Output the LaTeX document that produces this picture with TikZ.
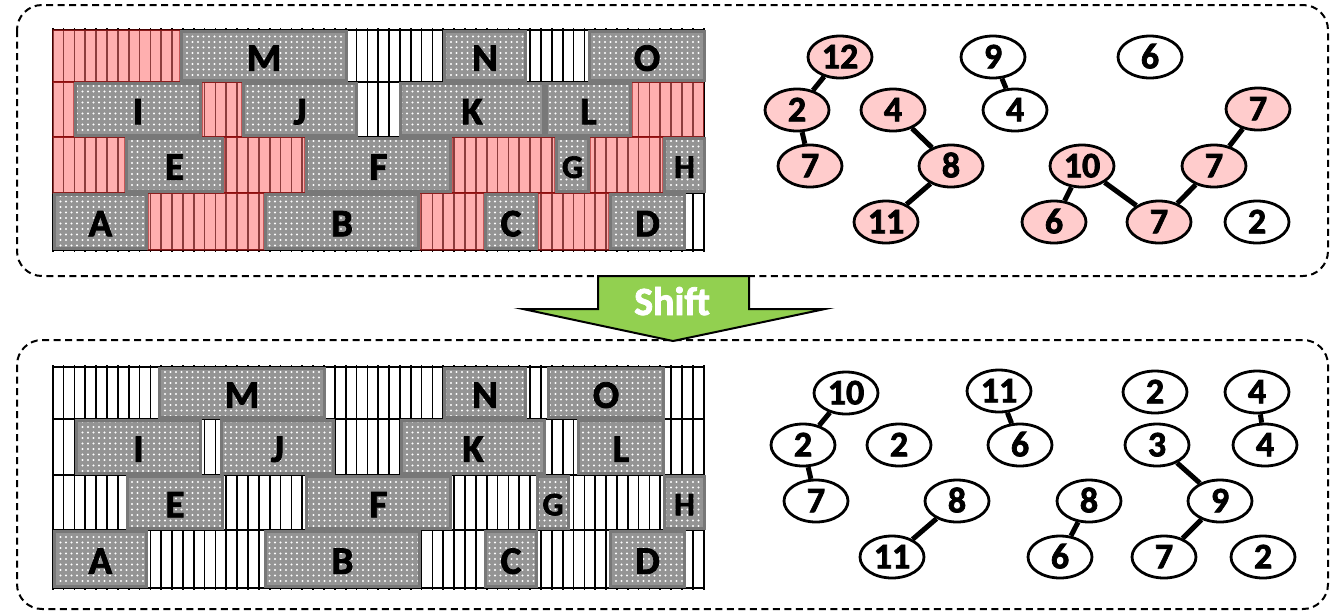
\documentclass[tikz,border=0pt]{standalone}
\usepackage{fontspec}
\setmainfont{Carlito}[BoldFont={Carlito Bold}, BoldFeatures={FakeBold=2}]
\usetikzlibrary{shapes.geometric,patterns.meta}
\definecolor{redfill}{RGB}{255,110,110}
\definecolor{pinkfill}{RGB}{255,204,204}
\definecolor{blkfill}{RGB}{148,148,148}
\definecolor{blkedge}{RGB}{120,120,120}
\definecolor{arrowgreen}{RGB}{146,208,80}
\tikzset{
  hatchline/.style={black, line width=1.7pt},
  rowline/.style={black, line width=1.3pt},
  redzone/.style={fill=redfill, fill opacity=0.55, draw=red!55!black, draw opacity=0.5, line width=1.2pt},
  blk/.style={preaction={fill=blkfill}, pattern={Dots[distance=5.5pt,radius=1.05pt]}, pattern color=white, draw=blkedge, line width=3pt},
  lbl/.style={font=\bfseries\fontsize{39}{42}\selectfont, inner sep=0pt, text height=24.6pt, text depth=0pt, yshift=-2.5pt},
  lblsmall/.style={font=\bfseries\fontsize{33}{36}\selectfont, text height=20.8pt},
  num/.style={ellipse, draw=black, line width=2.8pt, minimum width=64pt, minimum height=42pt, inner sep=0pt, font=\bfseries\fontsize{36}{38}\selectfont, text height=22.7pt, text depth=0pt},
  pnum/.style={num, fill=pinkfill},
  wnum/.style={num, fill=white},
  link/.style={line width=5pt, black},
  dbox/.style={draw=black, line width=2pt, dash pattern=on 7pt off 4.5pt, rounded corners=25pt},
  shiftarrow/.style={fill=arrowgreen, draw=black, line width=2pt, line join=miter},
  shiftlbl/.style={font=\bfseries\fontsize{40}{44}\selectfont, text=white, anchor=base, inner sep=0pt},
}
\newcommand\myblock[7][]{%
  \path[blk] ({#2+1.5},{#4+1.5}) rectangle ({#3-1.5},{#5-1.5});
  \node[lbl,#1] (#7) at ({(#2+#3)/2},{(#4+#5)/2}) {#6};
}
\newcommand\mygrid[5]{%
  \foreach \i in {0,...,60} \draw[hatchline] ({52.7+\i*10.85},{#1-2}) -- ({52.7+\i*10.85},{#5+2});
  \foreach \yy in {#1,#2,#3,#4,#5} \draw[rowline] (52.7,\yy) -- (703.7,\yy);
}
\begin{document}
\begin{tikzpicture}[x=1pt,y=-1pt]
\useasboundingbox (0,0) rectangle (1332,614);
% dashed panels
\draw[dbox] (17,5) rectangle (1328,276);
\draw[dbox] (17,340) rectangle (1328,609);
% ---------- top grid ----------
\mygrid{30}{82}{137}{193}{250}
\foreach \a/\b/\c/\d in {52.7/180/30/82, 52.7/74/82/137, 202/242/82/137, 632/703.7/82/137,
  52.7/125/137/193, 224/305/137/193, 452/555/137/193, 590/663/137/193,
  148/264/193/250, 420/484/193/250, 538/609/193/250}
  \path[redzone] (\a,\c) rectangle (\b,\d);
\myblock{180}{348}{30}{82}{M}{tM}
\myblock{443}{527}{30}{82}{N}{tN}
\myblock{588}{706}{30}{82}{O}{tO}
\myblock{74}{202}{82}{137}{I}{tI}
\myblock{242}{358}{82}{137}{J}{tJ}
\myblock{399}{545}{82}{137}{K}{tK}
\myblock{545}{632}{82}{137}{L}{tL}
\myblock{125}{224}{137}{193}{E}{tE}
\myblock{305}{452}{137}{193}{F}{tF}
\myblock[lblsmall]{555}{590}{137}{193}{G}{tG}
\myblock[lblsmall]{663}{706}{137}{193}{H}{tH}
\myblock{52.7}{148}{193}{250}{A}{tA}
\myblock{264}{420}{193}{250}{B}{tB}
\myblock{484}{538}{193}{250}{C}{tC}
\myblock{609}{686}{193}{250}{D}{tD}
% ---------- bottom grid ----------
\mygrid{367}{419}{475}{530}{588}
\myblock{158}{326}{367}{419}{M}{bM}
\myblock{443}{527}{367}{419}{N}{bN}
\myblock{547}{665}{367}{419}{O}{bO}
\myblock{75}{202}{419}{475}{I}{bI}
\myblock{220}{335}{419}{475}{J}{bJ}
\myblock{400}{546}{419}{475}{K}{bK}
\myblock{577}{665}{419}{475}{L}{bL}
\myblock{126}{224}{475}{530}{E}{bE}
\myblock{305}{452}{475}{530}{F}{bF}
\myblock[lblsmall]{536}{570}{475}{530}{G}{bG}
\myblock[lblsmall]{663}{706}{475}{530}{H}{bH}
\myblock{52.7}{148}{530}{588}{A}{bA}
\myblock{264}{421}{530}{588}{B}{bB}
\myblock{484}{538}{530}{588}{C}{bC}
\myblock{609}{686}{530}{588}{D}{bD}
% ---------- top graph ----------
\node[pnum] (a12) at (840,57) {12};
\node[pnum] (a2) at (797,110) {2};
\node[pnum] (a7) at (810,166) {7};
\node[pnum] (a4) at (893,110) {4};
\node[pnum] (a8) at (951,166) {8};
\node[pnum] (a11) at (886,222) {11};
\node[wnum] (a9) at (993,57) {9};
\node[wnum] (a4w) at (1015,110) {4};
\node[wnum] (a6w) at (1150,57) {6};
\node[pnum] (a7t) at (1258,109) {7};
\node[pnum] (a10) at (1082,166) {10};
\node[pnum] (a7m) at (1214,166) {7};
\node[pnum] (a6) at (1054,222) {6};
\node[pnum] (a7b) at (1159,222) {7};
\node[wnum] (a2w) at (1257,222) {2};
\draw[link] (a12) -- (a2);
\draw[link] (a2) -- (a7);
\draw[link] (a4) -- (a8);
\draw[link] (a8) -- (a11);
\draw[link] (a9) -- (a4w);
\draw[link] (a10) -- (a6);
\draw[link] (a10) -- (a7b);
\draw[link] (a7b) -- (a7m);
\draw[link] (a7m) -- (a7t);
% ---------- bottom graph ----------
\node[wnum] (b10) at (846,393) {10};
\node[wnum] (b2) at (803,445) {2};
\node[wnum] (b7) at (816,501) {7};
\node[wnum] (b2i) at (899,445) {2};
\node[wnum] (b11) at (999,391) {11};
\node[wnum] (b6) at (1020,445) {6};
\node[wnum] (b8) at (957,501) {8};
\node[wnum] (b11b) at (892,557) {11};
\node[wnum] (b2t) at (1155,392) {2};
\node[wnum] (b4t) at (1257,392) {4};
\node[wnum] (b3) at (1157,445) {3};
\node[wnum] (b4) at (1265,445) {4};
\node[wnum] (b8r) at (1089,501) {8};
\node[wnum] (b9) at (1220,501) {9};
\node[wnum] (b6b) at (1060,557) {6};
\node[wnum] (b7b) at (1164,557) {7};
\node[wnum] (b2b) at (1263,557) {2};
\draw[link] (b10) -- (b2);
\draw[link] (b2) -- (b7);
\draw[link] (b11) -- (b6);
\draw[link] (b8) -- (b11b);
\draw[link] (b8r) -- (b6b);
\draw[link] (b4t) -- (b4);
\draw[link] (b3) -- (b9);
\draw[link] (b9) -- (b7b);
% ---------- shift arrow ----------
\draw[shiftarrow] (598,276) -- (749,276) -- (749,309) -- (825,309) -- (673,341) -- (523,309) -- (598,309) -- cycle;
\node[shiftlbl] (shiftlabel) at (672,315) {Shift};
\end{tikzpicture}
\end{document}
